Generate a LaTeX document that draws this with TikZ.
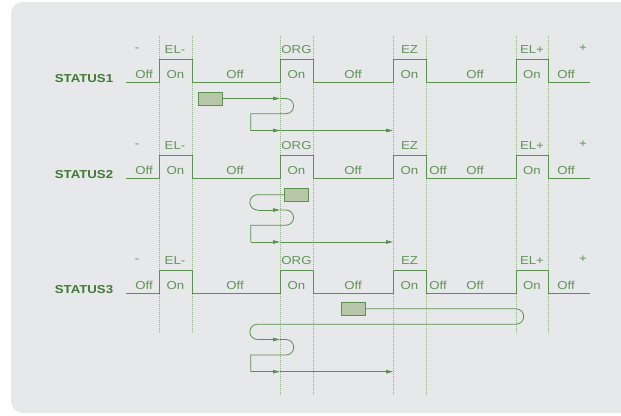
\documentclass[tikz,border=0pt]{standalone}
\usepackage{fontspec}
\setmainfont{Liberation Sans}[FakeStretch=1.15]
\usetikzlibrary{arrows.meta}
\definecolor{bggray}{RGB}{231,232,234}
\definecolor{wave}{RGB}{92,143,82}
\definecolor{lbl}{RGB}{98,146,88}
\definecolor{stat}{RGB}{66,120,56}
\definecolor{dots}{RGB}{145,174,137}
\definecolor{boxfill}{RGB}{184,199,168}
\tikzset{
  waveline/.style={draw=wave, line width=0.95pt},
  guide/.style={draw=dots, line width=0.8pt, dash pattern=on 0.8pt off 1.2pt},
  txt/.style={text=lbl, font=\fontsize{11.5}{13}\selectfont, inner sep=0pt, anchor=center},
  stattxt/.style={text=stat, font=\fontsize{11.5}{13}\selectfont\bfseries, inner sep=0pt, anchor=center},
  flow/.style={draw=wave, line width=0.8pt},
  arr/.style={flow, -{Triangle[length=7pt,width=3.6pt]}},
  regbox/.style={draw=wave, fill=boxfill, line width=0.9pt, minimum width=24.5pt, minimum height=13pt, inner sep=0pt}
}
\begin{document}
\begin{tikzpicture}[x=1pt,y=1pt]
\useasboundingbox (0,0) rectangle (621,-415);
\clip (0,0) rectangle (621,-415);
\fill[bggray, rounded corners=12pt] (640,-2) -- (11,-2) -- (11,-413) -- (640,-413);

% guide lines
\foreach \x in {159,192,516,548} \draw[guide] (\x,-36) -- (\x,-333);
\foreach \x in {280,313,393,426} \draw[guide] (\x,-36) -- (\x,-395);

% waveforms and labels
\foreach \yb/\n in {82/1,178/2,293/3} {
  \pgfmathsetmacro{\yt}{\yb-23}
  \pgfmathsetmacro{\yl}{\yb-32.5}
  \pgfmathsetmacro{\yo}{\yb-7.5}
  \pgfmathsetmacro{\ys}{\yb-3}
  \draw[waveline] (126,-\yb) -- (159,-\yb) -- (159,-\yt) -- (192,-\yt) -- (192,-\yb)
    -- (280,-\yb) -- (280,-\yt) -- (313,-\yt) -- (313,-\yb)
    -- (393,-\yb) -- (393,-\yt) -- (426,-\yt) -- (426,-\yb)
    -- (516,-\yb) -- (516,-\yt) -- (548,-\yt) -- (548,-\yb) -- (590,-\yb);
  \node[stattxt] (st\n) at (84,-\ys) {STATUS\n};
  \node[txt] (mn\n) at (137,-\yl) {-};
  \node[txt] (elm\n) at (175,-\yl) {EL-};
  \node[txt] (org\n) at (296.5,-\yl) {ORG};
  \node[txt] (ez\n) at (409.5,-\yl) {EZ};
  \node[txt] (elp\n) at (532,-\yl) {EL+};
  \node[txt] (pl\n) at (583,-\yl+1.5) {+};
  \node[txt] (o1\n) at (144,-\yo) {Off};
  \node[txt] (on1\n) at (175.5,-\yo) {On};
  \node[txt] (o2\n) at (235,-\yo) {Off};
  \node[txt] (on2\n) at (296.5,-\yo) {On};
  \node[txt] (o3\n) at (353,-\yo) {Off};
  \node[txt] (on3\n) at (409.5,-\yo) {On};
  \node[txt] (o4\n) at (475,-\yo) {Off};
  \node[txt] (on4\n) at (532,-\yo) {On};
  \node[txt] (o5\n) at (566,-\yo) {Off};
}
\node[txt] (ox2) at (438,-170.5) {Off};
\node[txt] (ox3) at (438,-285.5) {Off};

% STATUS1 flow
\node[regbox] (b1) at (210.5,-98.5) {};
\coordinate (a1) at (280,-98.5);
\coordinate (c1) at (286,-98.5);
\coordinate (d1) at (250.7,-113.7);
\coordinate (e1) at (250.7,-130.5);
\coordinate (f1) at (280,-130.5);
\coordinate (g1) at (393,-130.5);
\draw[arr] (b1.east) -- (a1);
\draw[flow] (a1) -- (c1) arc (90:-90:7.6) -- (d1) -- (e1) -- (f1);
\draw[arr] (e1) -- (f1);
\draw[arr] (f1) -- (g1);

% STATUS2 flow
\node[regbox] (b2) at (296.5,-194.7) {};
\coordinate (c2) at (257.5,-194.7);
\coordinate (h2) at (257.5,-210);
\coordinate (a2) at (280,-210);
\coordinate (k2) at (286,-210);
\coordinate (d2) at (250.7,-225.2);
\coordinate (e2) at (250.7,-242);
\coordinate (f2) at (280,-242);
\coordinate (g2) at (393,-242);
\draw[flow] (b2.west) -- (c2) arc (90:270:7.65) -- (h2);
\draw[arr] (h2) -- (a2);
\draw[flow] (a2) -- (k2) arc (90:-90:7.6) -- (d2) -- (e2);
\draw[arr] (e2) -- (f2);
\draw[arr] (f2) -- (g2);

% STATUS3 flow
\node[regbox] (b3) at (353.5,-308.8) {};
\coordinate (c3) at (516,-308.8);
\coordinate (h3) at (257.5,-324.2);
\coordinate (i3) at (257.5,-339.5);
\coordinate (a3) at (280,-339.5);
\coordinate (k3) at (286,-339.5);
\coordinate (d3) at (250.7,-355);
\coordinate (e3) at (250.7,-371.7);
\coordinate (f3) at (280,-371.7);
\coordinate (g3) at (393,-371.7);
\draw[flow] (b3.east) -- (c3) arc (90:-90:7.7) -- (h3) arc (90:270:7.65) -- (i3);
\draw[arr] (i3) -- (a3);
\draw[flow] (a3) -- (k3) arc (90:-90:7.75) -- (d3) -- (e3);
\draw[arr] (e3) -- (f3);
\draw[arr] (f3) -- (g3);
\end{tikzpicture}
\end{document}
